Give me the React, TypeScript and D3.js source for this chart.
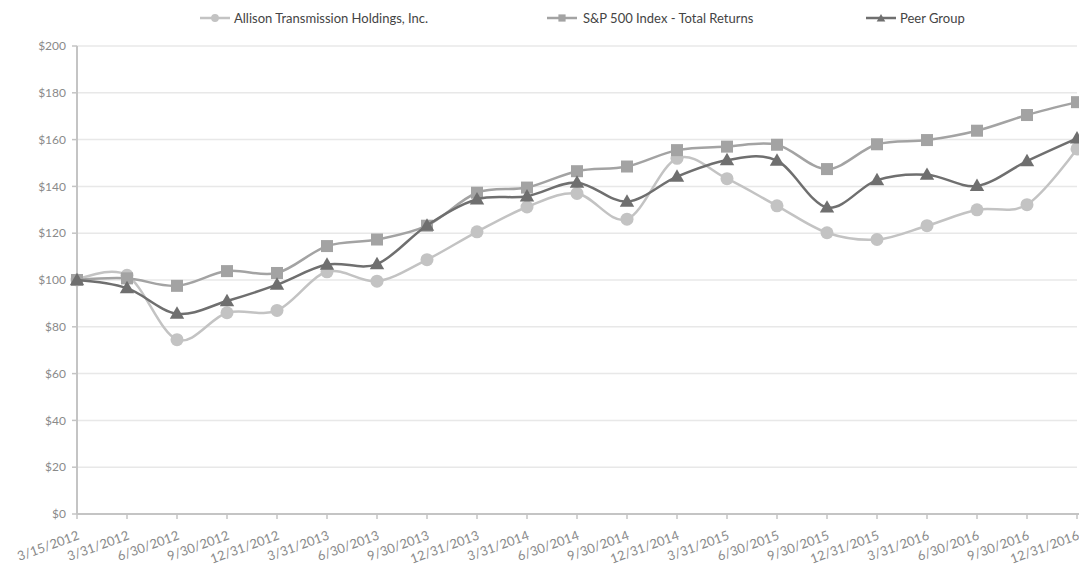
import React from "react";
import * as d3 from "d3";

const categories = [
  "3/15/2012", "3/31/2012", "6/30/2012", "9/30/2012", "12/31/2012",
  "3/31/2013", "6/30/2013", "9/30/2013", "12/31/2013", "3/31/2014",
  "6/30/2014", "9/30/2014", "12/31/2014", "3/31/2015", "6/30/2015",
  "9/30/2015", "12/31/2015", "3/31/2016", "6/30/2016", "9/30/2016",
  "12/31/2016",
];

const allison = [100, 102, 74.5, 86, 87, 103.5, 99.5, 108.7, 120.6, 131.2, 137, 126, 152, 143.3, 131.7, 120.2, 117.3, 123.2, 130, 132.2, 156];
const sp500 = [100, 100.7, 97.5, 103.8, 103, 114.5, 117.3, 123.2, 137.3, 139.5, 146.5, 148.5, 155.5, 157, 157.8, 147.4, 158, 159.8, 163.8, 170.5, 176];
const peer = [100, 96.5, 85.6, 91, 98, 106.6, 106.8, 123.3, 134.5, 135.8, 141.6, 133.5, 144.2, 151.2, 151, 131, 142.7, 145, 140.2, 150.8, 160.5];

const yTicks = [0, 20, 40, 60, 80, 100, 120, 140, 160, 180, 200];

const seriesNames = ["Allison Transmission Holdings, Inc.", "S&P 500 Index - Total Returns", "Peer Group"];

const W = 1079;
const H = 564;
const left = 77;
const right = 1077;
const top = 46;
const bottom = 514;

const FONT = "Lato, 'Open Sans', sans-serif";

export default function App() {
  const x = d3.scalePoint<string>().domain(categories).range([left, right]);
  const y = d3.scaleLinear().domain([0, 200]).range([bottom, top]);

  const line = d3
    .line<number>()
    .x((_, i) => x(categories[i]) as number)
    .y((d) => y(d))
    .curve(d3.curveCardinal.tension(0));

  const series = [
    { name: seriesNames[0], data: allison, color: "#c3c3c3", marker: "circle" },
    { name: seriesNames[1], data: sp500, color: "#a3a3a3", marker: "square" },
    { name: seriesNames[2], data: peer, color: "#6f6f6f", marker: "triangle" },
  ];

  const tri = d3.symbol(d3.symbolTriangle, 90)() as string;

  const marker = (type: string, cx: number, cy: number, color: string, key: string | number, scale = 1) => {
    if (type === "circle") return <circle key={key} cx={cx} cy={cy} r={6.5 * scale} fill={color} />;
    if (type === "square") {
      const s = 12 * scale;
      return <rect key={key} x={cx - s / 2} y={cy - s / 2} width={s} height={s} fill={color} />;
    }
    return <path key={key} d={tri} transform={`translate(${cx},${cy + 1}) scale(${scale})`} fill={color} />;
  };

  const legendItems = [
    { lx: 200, tx: 234 },
    { lx: 547, tx: 583 },
    { lx: 866, tx: 900 },
  ];

  return (
    <svg width={W} height={H} style={{ position: "absolute", left: 0, top: 0, background: "#fff" }}>
      {/* gridlines */}
      {yTicks.map((t) => (
        <line key={"g" + t} x1={left} x2={right} y1={y(t)} y2={y(t)} stroke="#e8e8e8" strokeWidth={1.5} />
      ))}
      {/* y axis */}
      <line x1={left} x2={left} y1={top} y2={bottom} stroke="#c4c4c4" strokeWidth={2} />
      {yTicks.map((t) => (
        <g key={"yt" + t}>
          <line x1={left - 5} x2={left} y1={y(t)} y2={y(t)} stroke="#c4c4c4" strokeWidth={1.5} />
          <text x={66} y={y(t)} dy="0.35em" textAnchor="end" fontFamily={FONT} fontSize={12} fill="#8a8a8a">
            {"$" + t}
          </text>
        </g>
      ))}
      {/* x axis */}
      <line x1={left} x2={right + 2} y1={bottom} y2={bottom} stroke="#c4c4c4" strokeWidth={2} />
      {categories.map((c) => (
        <g key={"xt" + c}>
          <line x1={x(c)} x2={x(c)} y1={bottom} y2={bottom + 5} stroke="#c4c4c4" strokeWidth={1.5} />
          <text
            transform={`translate(${(x(c) as number) + 3},${bottom + 25}) rotate(-20)`}
            textAnchor="end"
            fontFamily={FONT}
            fontSize={13}
            fill="#8a8a8a"
          >
            {c}
          </text>
        </g>
      ))}
      {/* series */}
      {series.map((s) => (
        <g key={s.name}>
          <path d={line(s.data) as string} fill="none" stroke={s.color} strokeWidth={2.5} />
          {s.data.map((v, i) => marker(s.marker, x(categories[i]) as number, y(v), s.color, i))}
        </g>
      ))}
      {/* legend */}
      {series.map((s, i) => (
        <g key={"lg" + i}>
          <line x1={legendItems[i].lx} x2={legendItems[i].lx + 30} y1={18} y2={18} stroke={s.color} strokeWidth={2.5} />
          {marker(s.marker, legendItems[i].lx + 15, 18, s.color, "m", 0.6)}
          <text x={legendItems[i].tx} y={18} dy="0.35em" fontFamily={FONT} fontSize={13} fill="#444">
            {s.name}
          </text>
        </g>
      ))}
    </svg>
  );
}
